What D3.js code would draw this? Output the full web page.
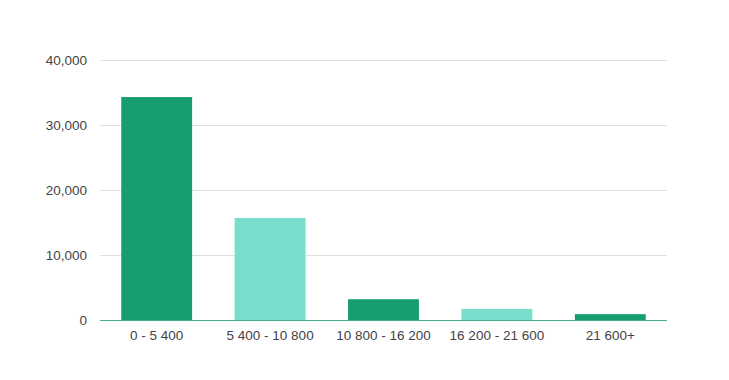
<!DOCTYPE html>
<html lang="en">
<head>
<meta charset="utf-8">
<script src="https://d3js.org/d3.v7.min.js"></script>
<style>
  body { margin: 0; background: #fff; }
  .axis text { font: 13.5px "Liberation Sans", Arial, sans-serif; fill: #444; }
</style>
</head>
<body>
<div id="viz"></div>
<script>
// data
var categories = ["0 - 5 400", "5 400 - 10 800", "10 800 - 16 200", "16 200 - 21 600", "21 600+"];
var counts = [34300, 15700, 3200, 1700, 900];
var yTicks = [0, 10000, 20000, 30000, 40000];
var barColors = ["#189d71", "#7adccb", "#189d71", "#7adccb", "#189d71"];

var width = 729, height = 380;
var margin = {top: 60, right: 62, bottom: 60, left: 100};

var svg = d3.select("#viz").append("svg")
    .attr("width", width)
    .attr("height", height);

var x = d3.scaleBand()
    .domain(categories)
    .range([margin.left, width - margin.right])
    .paddingInner(0.375)
    .paddingOuter(0.1875);

var y = d3.scaleLinear()
    .domain([0, 40000])
    .range([height - margin.bottom, margin.top]);

// gridlines
svg.append("g")
  .selectAll("line")
  .data(yTicks.slice(1))
  .enter().append("line")
    .attr("x1", margin.left)
    .attr("x2", width - margin.right)
    .attr("y1", function(d) { return Math.round(y(d)) + 0.5; })
    .attr("y2", function(d) { return Math.round(y(d)) + 0.5; })
    .attr("stroke", "#e0e0e0");

// y labels
var yAxis = svg.append("g")
    .attr("class", "axis")
    .attr("transform", "translate(" + margin.left + ",0)")
    .call(d3.axisLeft(y).tickValues(yTicks).tickSize(0).tickPadding(13).tickFormat(d3.format(",")));
yAxis.select(".domain").remove();

// bars
svg.append("g")
  .selectAll("rect")
  .data(counts)
  .enter().append("rect")
    .attr("x", function(d, i) { return x(categories[i]); })
    .attr("y", function(d) { return y(d); })
    .attr("width", x.bandwidth())
    .attr("height", function(d) { return y(0) - y(d); })
    .attr("fill", function(d, i) { return barColors[i]; });

// baseline
svg.append("line")
    .attr("x1", margin.left)
    .attr("x2", width - margin.right)
    .attr("y1", y(0) + 0.5)
    .attr("y2", y(0) + 0.5)
    .attr("stroke", "#4cae89")
    .attr("stroke-width", 1.2);

// x labels
var xAxis = svg.append("g")
    .attr("class", "axis")
    .attr("transform", "translate(0," + y(0) + ")")
    .call(d3.axisBottom(x).tickSize(0).tickPadding(10));
xAxis.select(".domain").remove();
</script>
</body>
</html>
